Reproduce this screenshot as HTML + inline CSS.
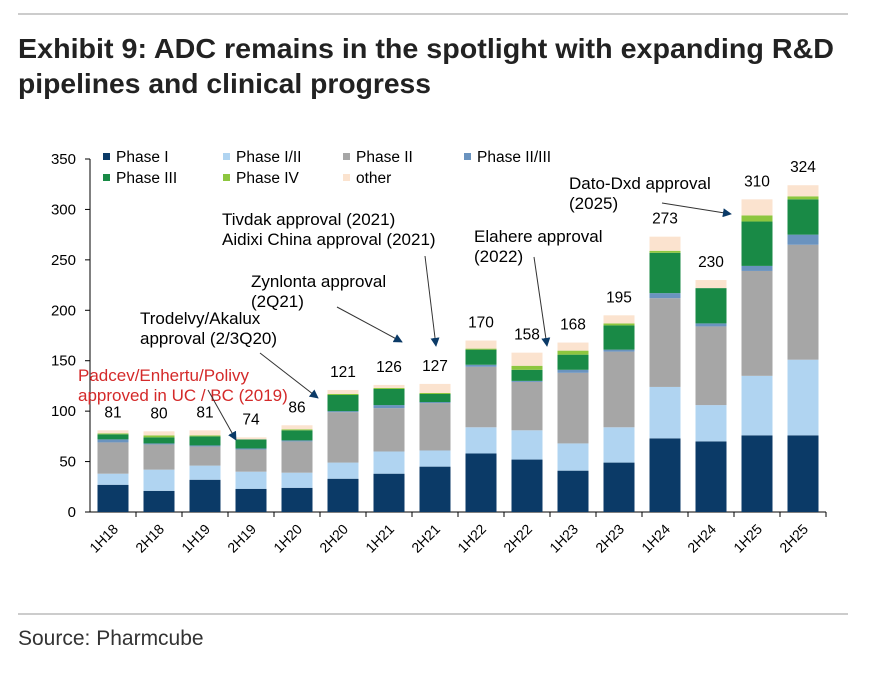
<!DOCTYPE html>
<html><head><meta charset="utf-8"><style>
body{margin:0;background:#fff;width:875px;height:677px;overflow:hidden;font-family:"Liberation Sans",Arial,sans-serif}
</style></head><body>
<svg width="875" height="677" xmlns="http://www.w3.org/2000/svg">
<line x1="18" y1="14" x2="848" y2="14" stroke="#999"/>
<text x="18" y="58" font-size="28" font-weight="bold" fill="#222" textLength="816" lengthAdjust="spacingAndGlyphs">Exhibit 9: ADC remains in the spotlight with expanding R&amp;D</text>
<text x="18" y="93" font-size="28" font-weight="bold" fill="#222" textLength="413" lengthAdjust="spacingAndGlyphs">pipelines and clinical progress</text>
<g id="plot"></g>
<line x1="18" y1="614" x2="848" y2="614" stroke="#999"/>
<text x="18" y="645" font-size="21" fill="#333">Source: Pharmcube</text>
</svg>
<script>
const categories=["1H18","2H18","1H19","2H19","1H20","2H20","1H21","2H21","1H22","2H22","1H23","2H23","1H24","2H24","1H25","2H25"];
const phase1=[27,21,32,23,24,33,38,45,58,52,41,49,73,70,76,76];
const phase12=[11,21,14,17,15,16,22,16,26,29,27,35,51,36,59,75];
const phase2=[31,25,19,22,31,50,43,47,60,48,70,75,88,78,104,114];
const phase23=[3,1,1,1,1,1,3,1,2,1,3,2,5,3,5,10];
const phase3=[5,6,9,9,10,16,16,8,15,11,15,24,40,35,44,35];
const phase4=[1,2,1,0,1,1,1,1,1,4,4,2,2,0,6,3];
const other=[3,4,5,2,4,4,3,9,8,13,8,8,14,8,16,11];
const totals=[81,80,81,74,86,121,126,127,170,158,168,195,273,230,310,324];
const yTicks=[0,50,100,150,200,250,300,350];
const seriesNames=["Phase I","Phase I/II","Phase II","Phase II/III","Phase III","Phase IV","other"];
const seriesColors=["#0b3a67","#b0d4f1","#a6a6a6","#6a93bf","#198a46","#8dc63f","#fbe3cf"];
const series=[phase1,phase12,phase2,phase23,phase3,phase4,other];

const NS="http://www.w3.org/2000/svg";
const g=document.getElementById('plot');
const x0=90,step=46,bw=31,y0=512,k=353/350;
const xc=i=>x0+step*i+step/2;
const yv=v=>y0-v*k;
function mk(t,a,txt){const e=document.createElementNS(NS,t);for(const n in a)e.setAttribute(n,a[n]);if(txt!=null)e.textContent=txt;g.appendChild(e);return e;}

let ax=mk('line',{x1:x0,y1:yv(0),x2:x0,y2:yv(350),stroke:'#000'});


yTicks.forEach(t=>{
  let l=mk('line',{x1:x0-5,y1:yv(t),x2:x0,y2:yv(t),stroke:'#000'});
  
  
  let tx=mk('text',{x:x0-14,y:yv(t)+5,'font-size':15,'text-anchor':'end',fill:'#000'},String(t));
  
  
});
let xa=mk('line',{x1:x0,y1:y0,x2:x0+step*categories.length,y2:y0,stroke:'#000'});


categories.forEach((c,i)=>{
  let l=mk('line',{x1:x0+step*(i+1),y1:y0,x2:x0+step*(i+1),y2:y0+5,stroke:'#000'});
  
  
  const cx=xc(i)+6,cy=y0+18;
  let tx=mk('text',{x:cx,y:cy,'font-size':14,'text-anchor':'end',transform:`rotate(-45 ${cx} ${cy})`,fill:'#000'},c);
  
  
  let cum=0;
  series.forEach((s,j)=>{
    const v=s[i];
    if(v>0){
      let r=mk('rect',{x:xc(i)-bw/2,y:yv(cum+v),width:bw,height:v*k,fill:seriesColors[j]});
      
      
    }
    cum+=v;
  });
  let tl=mk('text',{x:xc(i),y:yv(totals[i])-13,'font-size':15.5,'text-anchor':'middle',fill:'#000'},String(totals[i]));
  
  
});
const legPos=[[106,162],[226,162],[346,162],[467,162],[106,183],[226,183],[346,183]];
seriesNames.forEach((n,j)=>{
  const [lx,ly]=legPos[j];
  let r=mk('rect',{x:lx-3,y:ly-9,width:7,height:7,fill:seriesColors[j]});
  
  
  let t=mk('text',{x:lx+10,y:ly,'font-size':15.5,fill:'#000'},n);
  
  
});
const defs=document.createElementNS(NS,'defs');
defs.innerHTML='<marker id="ah" viewBox="0 0 10 10" refX="9" refY="5" markerWidth="9" markerHeight="9" orient="auto"><path d="M0,0L10,5L0,10z" fill="#0b3a67"/></marker>';
g.appendChild(defs);
const notes=[
 {lines:["Padcev/Enhertu/Polivy","approved in UC / BC (2019)"],x:78,y:381,c:'#d42a2a',a:[208,390,236,440]},
 {lines:["Trodelvy/Akalux","approval (2/3Q20)"],x:140,y:324,c:'#000',a:[260,353,318,398]},
 {lines:["Zynlonta approval","(2Q21)"],x:251,y:287,c:'#000',a:[337,307,402,342]},
 {lines:["Tivdak approval (2021)","Aidixi China approval (2021)"],x:222,y:225,c:'#000',a:[425,256,436,346]},
 {lines:["Elahere approval","(2022)"],x:474,y:242,c:'#000',a:[534,257,547,346]},
 {lines:["Dato-Dxd approval","(2025)"],x:569,y:189,c:'#000',a:[662,203,731,214]}
];
notes.forEach(n=>{
  n.lines.forEach((ln,li)=>{
    let t=mk('text',{x:n.x,y:n.y+li*20,'font-size':17,fill:n.c},ln);
    
    
  });
  let l=mk('line',{x1:n.a[0],y1:n.a[1],x2:n.a[2],y2:n.a[3],stroke:'#333','stroke-width':1,'marker-end':'url(#ah)'});
  
  
});
</script>
</body></html>
